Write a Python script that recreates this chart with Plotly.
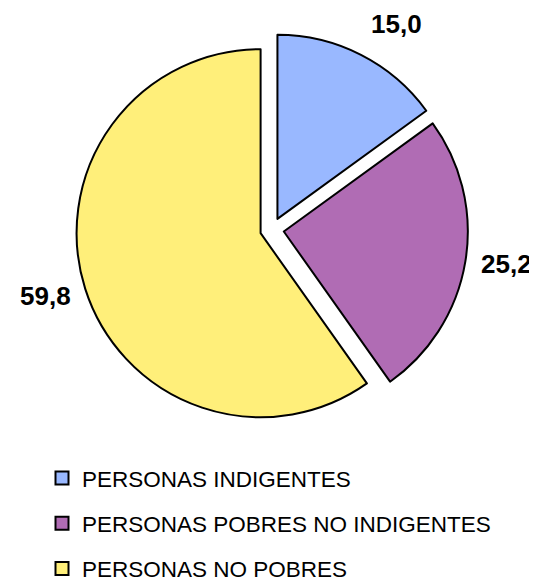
import plotly.graph_objects as go

categories = ["PERSONAS INDIGENTES", "PERSONAS POBRES NO INDIGENTES", "PERSONAS NO POBRES"]
values = [15.0, 25.2, 59.8]
colors = ["#99B8FF", "#B06CB4", "#FFEF7A"]

W, H = 537, 582
label_pos = [(388, 17), (498, 270), (37, 304)]  # pixel centers of value labels

fig = go.Figure()
fig.add_trace(go.Pie(
    labels=categories,
    values=values,
    sort=False,
    direction="clockwise",
    rotation=0,
    pull=[0.065, 0.065, 0.065],
    marker=dict(colors=colors, line=dict(color="black", width=2)),
    textinfo="none",
    hoverinfo="label+value",
    showlegend=False,
    domain=dict(x=[57 / W, 471 / W], y=[1 - 441 / H, 1 - 27 / H]),
))

# legend entries (one per category)
for cat, col in zip(categories, colors):
    fig.add_trace(go.Scatter(
        x=[None], y=[None], mode="markers", name=cat, legendgroup=cat,
        marker=dict(symbol="square", size=13, color=col, line=dict(color="black", width=2)),
        showlegend=True,
    ))

for v, (px, py) in zip(values, label_pos):
    fig.add_annotation(
        text=f"{v:.1f}".replace(".", ","),
        x=px / W, y=1 - py / H, xref="paper", yref="paper",
        xanchor="center", yanchor="middle", showarrow=False,
        font=dict(family="Liberation Sans, Arial", size=26, color="black", weight="bold"),
    )

fig.update_layout(
    width=W, height=H,
    margin=dict(l=0, r=0, t=0, b=0),
    paper_bgcolor="white", plot_bgcolor="white",
    xaxis=dict(visible=False), yaxis=dict(visible=False),
    legend=dict(
        x=34 / W, y=1 - 474 / H, xanchor="left", yanchor="top",
        font=dict(family="Liberation Sans, Arial", size=22.5, color="black"),
        tracegroupgap=13, bgcolor="rgba(0,0,0,0)",
    ),
)

fig.write_html("out.html")
